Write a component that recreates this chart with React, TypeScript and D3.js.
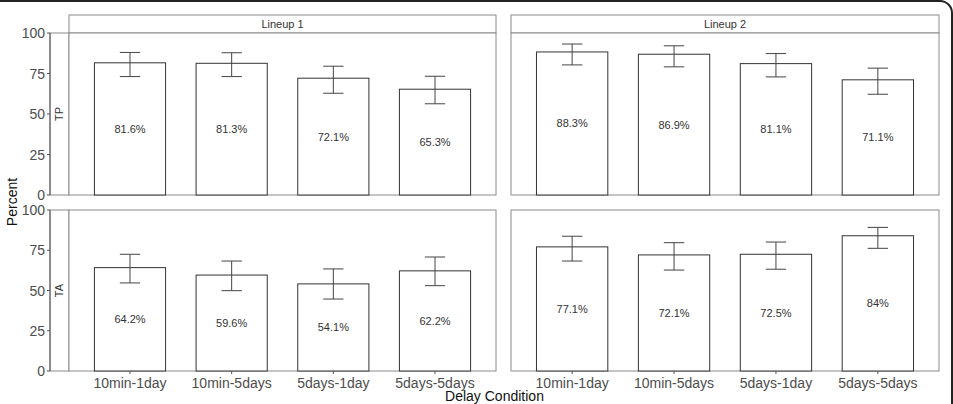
import React from 'react';
import { scaleBand, scaleLinear } from 'd3';

const categories = ['10min-1day', '10min-5days', '5days-1day', '5days-5days'];
const lineups = ['Lineup 1', 'Lineup 2'];
const types = ['TP', 'TA'];
const yTicks = [0, 25, 50, 75, 100];

// percent values with lower / upper error bar ends
const tpLineup1 = [81.6, 81.3, 72.1, 65.3];
const tpLineup1Lo = [73.1, 73.1, 62.8, 56.3];
const tpLineup1Hi = [88.0, 87.8, 79.5, 73.3];
const tpLineup2 = [88.3, 86.9, 81.1, 71.1];
const tpLineup2Lo = [80.3, 79.1, 72.9, 62.2];
const tpLineup2Hi = [93.2, 92.1, 87.3, 78.3];
const taLineup1 = [64.2, 59.6, 54.1, 62.2];
const taLineup1Lo = [54.7, 49.9, 44.7, 53.0];
const taLineup1Hi = [72.5, 68.3, 63.4, 70.8];
const taLineup2 = [77.1, 72.1, 72.5, 84];
const taLineup2Lo = [68.3, 62.7, 63.2, 76.2];
const taLineup2Hi = [83.7, 79.7, 80.1, 89.2];

const panels = [
  [
    { v: tpLineup1, lo: tpLineup1Lo, hi: tpLineup1Hi },
    { v: tpLineup2, lo: tpLineup2Lo, hi: tpLineup2Hi },
  ],
  [
    { v: taLineup1, lo: taLineup1Lo, hi: taLineup1Hi },
    { v: taLineup2, lo: taLineup2Lo, hi: taLineup2Hi },
  ],
];

const width = 953;
const height = 404;
const axisX = 50;
const stripW = 19;
const cols = [
  { x0: 69, x1: 496 },
  { x0: 511, x1: 939 },
];
const rows = [
  { y0: 33, y1: 195 },
  { y0: 210, y1: 371 },
];
const stripTop = 15;
const border = '#8a8a8a';
const font = 'Liberation Sans, Arial, sans-serif';

export default function App() {
  return (
    <svg
      width={width}
      height={height}
      style={{ position: 'absolute', left: 0, top: 0, background: '#fff' }}
      fontFamily={font}
    >
      <rect x={-20} y={1} width={972} height={500} rx={12} fill="none" stroke="#222" strokeWidth={2} />

      {/* top strips */}
      {cols.map((c, ci) => (
        <g key={'s' + ci}>
          <rect x={c.x0} y={stripTop} width={c.x1 - c.x0} height={rows[0].y0 - stripTop}
            fill="#fff" stroke={border} strokeWidth={1} />
          <text x={(c.x0 + c.x1) / 2} y={(stripTop + rows[0].y0) / 2 + 4} textAnchor="middle"
            fontSize={11} fill="#333">{lineups[ci]}</text>
        </g>
      ))}

      {rows.map((r, ri) => {
        const y = scaleLinear().domain([0, 100]).range([r.y1, r.y0]);
        return (
          <g key={'r' + ri}>
            {/* left strip */}
            <rect x={axisX} y={r.y0} width={stripW} height={r.y1 - r.y0} fill="#fff" stroke={border} />
            <text transform={`translate(${axisX + 13},${(r.y0 + r.y1) / 2}) rotate(-90)`}
              textAnchor="middle" fontSize={11} fill="#333">{types[ri]}</text>
            {/* y axis */}
            <line x1={axisX} x2={axisX} y1={r.y0} y2={r.y1} stroke="#555" />
            {yTicks.map(t => (
              <g key={t}>
                <line x1={axisX - 3} x2={axisX} y1={y(t)} y2={y(t)} stroke="#555" />
                <text x={axisX - 5} y={y(t) + 5} textAnchor="end" fontSize={14} fill="#4d4d4d">{t}</text>
              </g>
            ))}
            {cols.map((c, ci) => {
              const x = scaleBand().domain(categories).range([c.x0, c.x1])
                .paddingInner(0.3).paddingOuter(0.25);
              const d = panels[ri][ci];
              const capW = x.step() * 0.2;
              return (
                <g key={'p' + ci}>
                  <rect x={c.x0} y={r.y0} width={c.x1 - c.x0} height={r.y1 - r.y0} fill="#fff" stroke={border} />
                  {categories.map((cat, i) => {
                    const cx = (x(cat) as number) + x.bandwidth() / 2;
                    return (
                      <g key={cat}>
                        <rect x={x(cat)} y={y(d.v[i])} width={x.bandwidth()} height={y(0) - y(d.v[i])}
                          fill="#fff" stroke="#333" strokeWidth={1} />
                        <line x1={cx} x2={cx} y1={y(d.lo[i])} y2={y(d.hi[i])} stroke="#444" />
                        <line x1={cx - capW / 2} x2={cx + capW / 2} y1={y(d.hi[i])} y2={y(d.hi[i])} stroke="#444" />
                        <line x1={cx - capW / 2} x2={cx + capW / 2} y1={y(d.lo[i])} y2={y(d.lo[i])} stroke="#444" />
                        <text x={cx} y={y(d.v[i] / 2) + 4} textAnchor="middle" fontSize={11} fill="#333">
                          {d.v[i] + '%'}
                        </text>
                        {ri === 1 && (
                          <g>
                            <line x1={cx} x2={cx} y1={r.y1} y2={r.y1 + 3} stroke="#555" />
                            <text x={cx} y={r.y1 + 17} textAnchor="middle" fontSize={14} fill="#4d4d4d">{cat}</text>
                          </g>
                        )}
                      </g>
                    );
                  })}
                </g>
              );
            })}
          </g>
        );
      })}

      <text transform={`translate(17,${(rows[0].y0 + rows[1].y1) / 2}) rotate(-90)`} textAnchor="middle"
        fontSize={14} fill="#111">Percent</text>
      <text x={(axisX + cols[1].x1) / 2} y={401} textAnchor="middle" fontSize={14} fill="#111">Delay Condition</text>
    </svg>
  );
}
